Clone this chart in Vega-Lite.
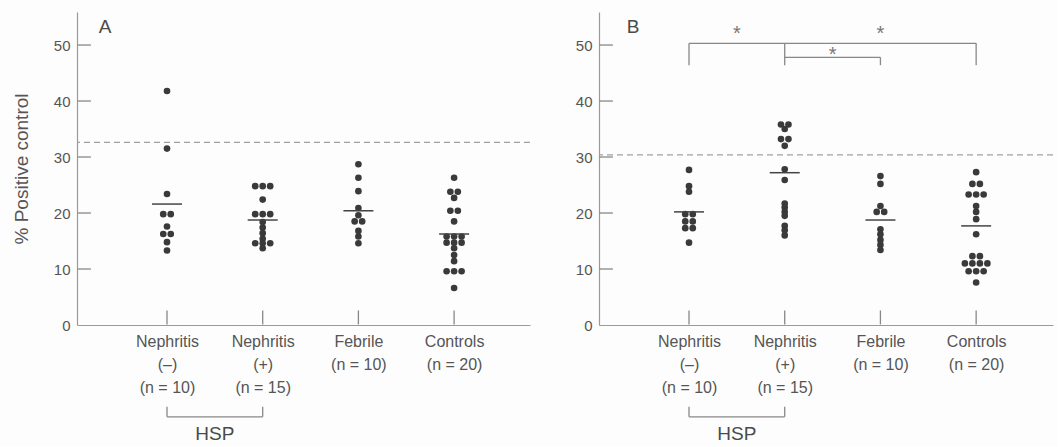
{
  "$schema": "https://vega.github.io/schema/vega-lite/v6.json",
  "background": "#fdfdfd",
  "padding": {"left": 12, "top": 12, "right": 4, "bottom": 2},
  "config": {
    "view": {"stroke": null},
    "font": "Liberation Sans",
    "axis": {"grid": false, "ticks": false, "domainColor": "#9a9a9a", "labelColor": "#555555", "titleColor": "#555555", "labelFont": "Liberation Sans", "titleFont": "Liberation Sans", "titleFontWeight": "normal", "domainWidth": 1.2}
  },
  "datasets": {
    "dots": [
      {"panel": "A", "group": 1, "value": 41.8, "slot": 0},
      {"panel": "A", "group": 1, "value": 31.5, "slot": 0},
      {"panel": "A", "group": 1, "value": 23.4, "slot": 0},
      {"panel": "A", "group": 1, "value": 19.8, "slot": -0.5},
      {"panel": "A", "group": 1, "value": 19.8, "slot": 0.5},
      {"panel": "A", "group": 1, "value": 17.6, "slot": 0},
      {"panel": "A", "group": 1, "value": 16.25, "slot": -0.5},
      {"panel": "A", "group": 1, "value": 16.25, "slot": 0.5},
      {"panel": "A", "group": 1, "value": 14.8, "slot": 0},
      {"panel": "A", "group": 1, "value": 13.3, "slot": 0},
      {"panel": "A", "group": 2, "value": 24.8, "slot": -1},
      {"panel": "A", "group": 2, "value": 24.8, "slot": 0},
      {"panel": "A", "group": 2, "value": 24.8, "slot": 1},
      {"panel": "A", "group": 2, "value": 22.4, "slot": 0},
      {"panel": "A", "group": 2, "value": 19.8, "slot": -1},
      {"panel": "A", "group": 2, "value": 19.8, "slot": 0},
      {"panel": "A", "group": 2, "value": 19.8, "slot": 1},
      {"panel": "A", "group": 2, "value": 18.4, "slot": 0},
      {"panel": "A", "group": 2, "value": 17.4, "slot": 0},
      {"panel": "A", "group": 2, "value": 16.4, "slot": 0},
      {"panel": "A", "group": 2, "value": 15.4, "slot": 0},
      {"panel": "A", "group": 2, "value": 14.6, "slot": -1},
      {"panel": "A", "group": 2, "value": 14.6, "slot": 0},
      {"panel": "A", "group": 2, "value": 14.6, "slot": 1},
      {"panel": "A", "group": 2, "value": 13.7, "slot": 0},
      {"panel": "A", "group": 3, "value": 28.7, "slot": 0},
      {"panel": "A", "group": 3, "value": 26.3, "slot": 0},
      {"panel": "A", "group": 3, "value": 23.9, "slot": 0},
      {"panel": "A", "group": 3, "value": 20.9, "slot": 0},
      {"panel": "A", "group": 3, "value": 19.6, "slot": 0},
      {"panel": "A", "group": 3, "value": 18.5, "slot": -0.5},
      {"panel": "A", "group": 3, "value": 18.5, "slot": 0.5},
      {"panel": "A", "group": 3, "value": 16.8, "slot": 0},
      {"panel": "A", "group": 3, "value": 15.8, "slot": 0},
      {"panel": "A", "group": 3, "value": 14.6, "slot": 0},
      {"panel": "A", "group": 4, "value": 26.3, "slot": 0},
      {"panel": "A", "group": 4, "value": 23.8, "slot": -0.5},
      {"panel": "A", "group": 4, "value": 23.8, "slot": 0.5},
      {"panel": "A", "group": 4, "value": 22.7, "slot": 0},
      {"panel": "A", "group": 4, "value": 20.4, "slot": -0.5},
      {"panel": "A", "group": 4, "value": 20.4, "slot": 0.5},
      {"panel": "A", "group": 4, "value": 18.5, "slot": 0},
      {"panel": "A", "group": 4, "value": 15.8, "slot": -1},
      {"panel": "A", "group": 4, "value": 15.8, "slot": 0},
      {"panel": "A", "group": 4, "value": 15.8, "slot": 1},
      {"panel": "A", "group": 4, "value": 14.7, "slot": -1},
      {"panel": "A", "group": 4, "value": 14.7, "slot": 0},
      {"panel": "A", "group": 4, "value": 14.7, "slot": 1},
      {"panel": "A", "group": 4, "value": 13.7, "slot": 0},
      {"panel": "A", "group": 4, "value": 12.5, "slot": 0},
      {"panel": "A", "group": 4, "value": 11.4, "slot": 0},
      {"panel": "A", "group": 4, "value": 9.6, "slot": -1},
      {"panel": "A", "group": 4, "value": 9.6, "slot": 0},
      {"panel": "A", "group": 4, "value": 9.6, "slot": 1},
      {"panel": "A", "group": 4, "value": 6.6, "slot": 0},
      {"panel": "B", "group": 1, "value": 27.7, "slot": 0},
      {"panel": "B", "group": 1, "value": 24.8, "slot": 0},
      {"panel": "B", "group": 1, "value": 23.8, "slot": 0},
      {"panel": "B", "group": 1, "value": 19.8, "slot": -0.5},
      {"panel": "B", "group": 1, "value": 19.8, "slot": 0.5},
      {"panel": "B", "group": 1, "value": 18.5, "slot": -0.5},
      {"panel": "B", "group": 1, "value": 18.5, "slot": 0.5},
      {"panel": "B", "group": 1, "value": 17.3, "slot": -0.5},
      {"panel": "B", "group": 1, "value": 17.3, "slot": 0.5},
      {"panel": "B", "group": 1, "value": 14.7, "slot": 0},
      {"panel": "B", "group": 2, "value": 35.8, "slot": -0.5},
      {"panel": "B", "group": 2, "value": 35.8, "slot": 0.5},
      {"panel": "B", "group": 2, "value": 35.0, "slot": 0},
      {"panel": "B", "group": 2, "value": 33.2, "slot": -0.5},
      {"panel": "B", "group": 2, "value": 33.2, "slot": 0.5},
      {"panel": "B", "group": 2, "value": 32.0, "slot": 0},
      {"panel": "B", "group": 2, "value": 27.8, "slot": 0},
      {"panel": "B", "group": 2, "value": 25.9, "slot": 0},
      {"panel": "B", "group": 2, "value": 21.7, "slot": 0},
      {"panel": "B", "group": 2, "value": 21.0, "slot": 0},
      {"panel": "B", "group": 2, "value": 20.2, "slot": 0},
      {"panel": "B", "group": 2, "value": 19.5, "slot": 0},
      {"panel": "B", "group": 2, "value": 17.7, "slot": 0},
      {"panel": "B", "group": 2, "value": 16.9, "slot": 0},
      {"panel": "B", "group": 2, "value": 16.0, "slot": 0},
      {"panel": "B", "group": 3, "value": 26.6, "slot": 0},
      {"panel": "B", "group": 3, "value": 25.2, "slot": 0},
      {"panel": "B", "group": 3, "value": 21.25, "slot": 0},
      {"panel": "B", "group": 3, "value": 20.2, "slot": -0.5},
      {"panel": "B", "group": 3, "value": 20.2, "slot": 0.5},
      {"panel": "B", "group": 3, "value": 17.1, "slot": 0},
      {"panel": "B", "group": 3, "value": 16.2, "slot": 0},
      {"panel": "B", "group": 3, "value": 15.2, "slot": 0},
      {"panel": "B", "group": 3, "value": 14.3, "slot": 0},
      {"panel": "B", "group": 3, "value": 13.4, "slot": 0},
      {"panel": "B", "group": 4, "value": 27.3, "slot": 0},
      {"panel": "B", "group": 4, "value": 25.2, "slot": -0.5},
      {"panel": "B", "group": 4, "value": 25.2, "slot": 0.5},
      {"panel": "B", "group": 4, "value": 23.3, "slot": -1},
      {"panel": "B", "group": 4, "value": 23.3, "slot": 0},
      {"panel": "B", "group": 4, "value": 23.3, "slot": 1},
      {"panel": "B", "group": 4, "value": 21.25, "slot": 0},
      {"panel": "B", "group": 4, "value": 20.2, "slot": 0},
      {"panel": "B", "group": 4, "value": 18.9, "slot": 0},
      {"panel": "B", "group": 4, "value": 16.2, "slot": 0},
      {"panel": "B", "group": 4, "value": 12.3, "slot": -0.5},
      {"panel": "B", "group": 4, "value": 12.3, "slot": 0.5},
      {"panel": "B", "group": 4, "value": 11.0, "slot": -1.5},
      {"panel": "B", "group": 4, "value": 11.0, "slot": -0.5},
      {"panel": "B", "group": 4, "value": 11.0, "slot": 0.5},
      {"panel": "B", "group": 4, "value": 11.0, "slot": 1.5},
      {"panel": "B", "group": 4, "value": 9.6, "slot": -1},
      {"panel": "B", "group": 4, "value": 9.6, "slot": 0},
      {"panel": "B", "group": 4, "value": 9.6, "slot": 1},
      {"panel": "B", "group": 4, "value": 7.6, "slot": 0}
    ],
    "means": [
      {"panel": "A", "group": 1, "value": 21.6},
      {"panel": "A", "group": 2, "value": 18.75},
      {"panel": "A", "group": 3, "value": 20.4},
      {"panel": "A", "group": 4, "value": 16.25},
      {"panel": "B", "group": 1, "value": 20.2},
      {"panel": "B", "group": 2, "value": 27.2},
      {"panel": "B", "group": 3, "value": 18.75},
      {"panel": "B", "group": 4, "value": 17.7}
    ],
    "refs": [
      {"panel": "A", "value": 32.6},
      {"panel": "B", "value": 30.4}
    ],
    "marks": [
      {"kind": "tick", "group": 0.066, "group2": 0.205, "value": 10, "value2": 10},
      {"kind": "tick", "group": 0.066, "group2": 0.205, "value": 20, "value2": 20},
      {"kind": "tick", "group": 0.066, "group2": 0.205, "value": 30, "value2": 30},
      {"kind": "tick", "group": 0.066, "group2": 0.205, "value": 40, "value2": 40},
      {"kind": "tick", "group": 0.066, "group2": 0.205, "value": 50, "value2": 50},
      {"kind": "tick", "group": 1, "group2": 1, "value": 0.1, "value2": 2.6},
      {"kind": "tick", "group": 2, "group2": 2, "value": 0.1, "value2": 2.6},
      {"kind": "tick", "group": 3, "group2": 3, "value": 0.1, "value2": 2.6},
      {"kind": "tick", "group": 4, "group2": 4, "value": 0.1, "value2": 2.6},
      {"kind": "hsp", "group": 1, "group2": 2, "value": -16.4, "value2": -16.4},
      {"kind": "hsp", "group": 1, "group2": 1, "value": -14.6, "value2": -16.4},
      {"kind": "hsp", "group": 2, "group2": 2, "value": -14.6, "value2": -16.4},
      {"kind": "sig", "group": 1, "group2": 4, "value": 50.3, "value2": 50.3},
      {"kind": "sig", "group": 1, "group2": 1, "value": 46.4, "value2": 50.3},
      {"kind": "sig", "group": 4, "group2": 4, "value": 46.4, "value2": 50.3},
      {"kind": "sig", "group": 2, "group2": 2, "value": 46.4, "value2": 50.3},
      {"kind": "sig", "group": 2, "group2": 3, "value": 47.8, "value2": 47.8},
      {"kind": "sig", "group": 3, "group2": 3, "value": 46.4, "value2": 47.8}
    ],
    "stars": [
      {"group": 1.5, "value": 52.7},
      {"group": 3, "value": 52.7},
      {"group": 2.5, "value": 48.9}
    ],
    "annot": [
      {"panel": "A", "group": 0.352, "value": 53.2, "label": "A"},
      {"panel": "A", "group": 1.5, "value": -19.4, "label": "HSP"},
      {"panel": "B", "group": 0.415, "value": 53.2, "label": "B"},
      {"panel": "B", "group": 1.5, "value": -19.4, "label": "HSP"}
    ]
  },
  "spacing": 44,
  "hconcat": [
    {
      "width": 453,
      "height": 313,
      "encoding": {
        "x": {"field": "group", "type": "quantitative", "scale": {"domain": [0.0596, 4.793], "nice": false, "zero": false},
              "axis": {"values": [1, 2, 3, 4], "title": null, "labelPadding": 8, "labelFontSize": 16, "labelLineHeight": 23, "labelBaseline": "top",
                       "labelExpr": "datum.value == 1 ? ['Nephritis', '(–)', '(n = 10)'] : datum.value == 2 ? ['Nephritis', '(+)', '(n = 15)'] : datum.value == 3 ? ['Febrile', '(n = 10)'] : ['Controls', '(n = 20)']"}},
        "y": {"field": "value", "type": "quantitative", "scale": {"domain": [0, 55.9], "nice": false},
              "axis": {"values": [0, 10, 20, 30, 40, 50], "title": "% Positive control", "titleFontSize": 19, "titlePadding": 22, "labelPadding": 7, "labelFontSize": 15}}
      },
      "layer": [
        {"data": {"name": "refs"}, "transform": [{"filter": "datum.panel == 'A'"}],
         "mark": {"type": "rule", "strokeDash": [6, 4], "color": "#a0a0a0", "strokeWidth": 1.2},
         "encoding": {"x": null}},
        {"data": {"name": "marks"}, "transform": [{"filter": "datum.kind != 'sig'"}],
         "mark": {"type": "rule", "color": "#888888", "strokeWidth": 1.3, "clip": false},
         "encoding": {"x2": {"field": "group2"}, "y2": {"field": "value2"}}},
        {"data": {"name": "dots"}, "transform": [{"filter": "datum.panel == 'A'"}],
         "mark": {"type": "point", "filled": true, "color": "#3a3a3a", "size": 44, "opacity": 1, "xOffset": {"expr": "datum.slot * 7.5"}}},
        {"data": {"name": "means"}, "transform": [{"filter": "datum.panel == 'A'"}],
         "mark": {"type": "tick", "orient": "horizontal", "size": 30, "thickness": 1.5, "color": "#444444", "opacity": 1}},
        {"data": {"name": "annot"}, "transform": [{"filter": "datum.panel == 'A'"}],
         "mark": {"type": "text", "fontSize": 19, "color": "#4a4a4a", "baseline": "middle"},
         "encoding": {"text": {"field": "label"}}}
      ]
    },
    {
      "width": 454,
      "height": 313,
      "encoding": {
        "x": {"field": "group", "type": "quantitative", "scale": {"domain": [0.0596, 4.803], "nice": false, "zero": false},
              "axis": {"values": [1, 2, 3, 4], "title": null, "labelPadding": 8, "labelFontSize": 16, "labelLineHeight": 23, "labelBaseline": "top",
                       "labelExpr": "datum.value == 1 ? ['Nephritis', '(–)', '(n = 10)'] : datum.value == 2 ? ['Nephritis', '(+)', '(n = 15)'] : datum.value == 3 ? ['Febrile', '(n = 10)'] : ['Controls', '(n = 20)']"}},
        "y": {"field": "value", "type": "quantitative", "scale": {"domain": [0, 55.9], "nice": false},
              "axis": {"values": [0, 10, 20, 30, 40, 50], "title": null, "labelPadding": 7, "labelFontSize": 15}}
      },
      "layer": [
        {"data": {"name": "refs"}, "transform": [{"filter": "datum.panel == 'B'"}],
         "mark": {"type": "rule", "strokeDash": [6, 4], "color": "#a0a0a0", "strokeWidth": 1.2},
         "encoding": {"x": null}},
        {"data": {"name": "marks"},
         "mark": {"type": "rule", "color": "#888888", "strokeWidth": 1.3, "clip": false},
         "encoding": {"x2": {"field": "group2"}, "y2": {"field": "value2"}}},
        {"data": {"name": "dots"}, "transform": [{"filter": "datum.panel == 'B'"}],
         "mark": {"type": "point", "filled": true, "color": "#3a3a3a", "size": 44, "opacity": 1, "xOffset": {"expr": "datum.slot * 7.5"}}},
        {"data": {"name": "means"}, "transform": [{"filter": "datum.panel == 'B'"}],
         "mark": {"type": "tick", "orient": "horizontal", "size": 30, "thickness": 1.5, "color": "#444444", "opacity": 1}},
        {"data": {"name": "stars"}, "mark": {"type": "text", "fontSize": 20, "color": "#777777", "baseline": "middle", "dy": 4},
         "encoding": {"text": {"value": "*"}}},
        {"data": {"name": "annot"}, "transform": [{"filter": "datum.panel == 'B'"}],
         "mark": {"type": "text", "fontSize": 19, "color": "#4a4a4a", "baseline": "middle"},
         "encoding": {"text": {"field": "label"}}}
      ]
    }
  ]
}
